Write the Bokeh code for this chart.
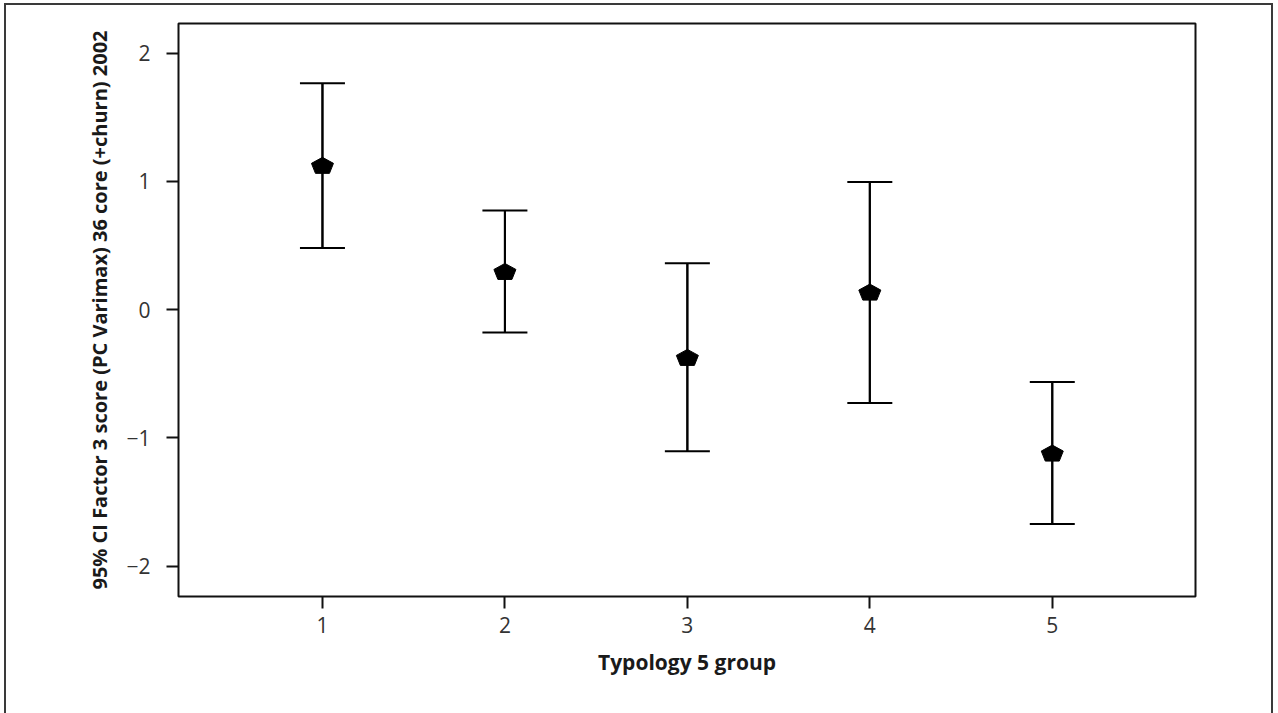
from bokeh.plotting import figure
from bokeh.models import ColumnDataSource, Whisker, TeeHead, FixedTicker, Range1d
from bokeh.embed import file_html
from bokeh.resources import INLINE

groups = [1, 2, 3, 4, 5]
means = [1.125, 0.298, -0.372, 0.137, -1.118]
upper = [1.766, 0.774, 0.361, 0.995, -0.564]
lower = [0.480, -0.177, -1.104, -0.728, -1.671]
y_ticks = [-2, -1, 0, 1, 2]
x_label = "Typology 5 group"
y_label = "95% CI Factor 3 score (PC Varimax) 36 core (+churn) 2002"

X0, X1 = 0.211, 5.785
Y0, Y1 = -2.236, 2.231
FW, FH = 1017, 573  # frame size in px

p = figure(frame_width=FW, frame_height=FH, output_backend="svg", toolbar_location=None,
           x_range=Range1d(X0, X1), y_range=Range1d(Y0, Y1),
           min_border_left=172, min_border_top=18, min_border_right=76,
           min_border_bottom=130,
           styles={"border": "2px solid #3a3a3a", "margin-left": "4px", "margin-top": "3px"})

p.grid.visible = False
p.outline_line_color = "#111111"
p.outline_line_width = 2
p.outline_line_alpha = 1

for ax in (p.xaxis[0], p.yaxis[0]):
    ax.axis_line_color = None
    ax.major_tick_line_color = "#111111"
    ax.major_tick_line_width = 2
    ax.major_tick_out = 12
    ax.major_tick_in = 0
    ax.minor_tick_line_color = None
    ax.major_label_text_font = "Open Sans"
    ax.major_label_text_font_size = "21px"
    ax.major_label_text_color = "#333333"
    ax.axis_label_text_font = "Open Sans"
    ax.axis_label_text_font_style = "bold"
    ax.axis_label_text_color = "#1a1a1a"

p.xaxis.axis_label_text_font_size = "21px"
p.yaxis.axis_label_text_font_size = "20px"
p.xaxis.ticker = FixedTicker(ticks=groups)
p.yaxis.ticker = FixedTicker(ticks=y_ticks)
p.xaxis.axis_label = x_label
p.yaxis.axis_label = y_label
p.xaxis.major_label_standoff = 8
p.xaxis.axis_label_standoff = 12
p.yaxis.major_label_standoff = 16
p.yaxis.axis_label_standoff = 10

src = ColumnDataSource(dict(x=groups, m=means, hi=upper, lo=lower))
p.segment(x0="x", y0="lo", x1="x", y1="hi", source=src, line_color="black", line_width=2)
w = Whisker(source=src, base="x", upper="hi", lower="lo", dimension="height",
            line_color="black", line_width=2,
            upper_head=TeeHead(size=45, line_color="black", line_width=2),
            lower_head=TeeHead(size=45, line_color="black", line_width=2))
p.add_layout(w)

# pentagon marker (flattened), offsets in px converted to data units
sx = FW / (X1 - X0)
sy = FH / (Y1 - Y0)
pent = [(0, 8), (11, 2), (7, -8), (-7, -8), (-11, 2)]
xs = [[g + dx / sx for dx, dy in pent] for g in groups]
ys = [[m + dy / sy for dx, dy in pent] for m in means]
p.patches(xs=xs, ys=ys, fill_color="black", line_color="black", line_width=1)

open("out.html", "w").write(file_html(p, INLINE))
